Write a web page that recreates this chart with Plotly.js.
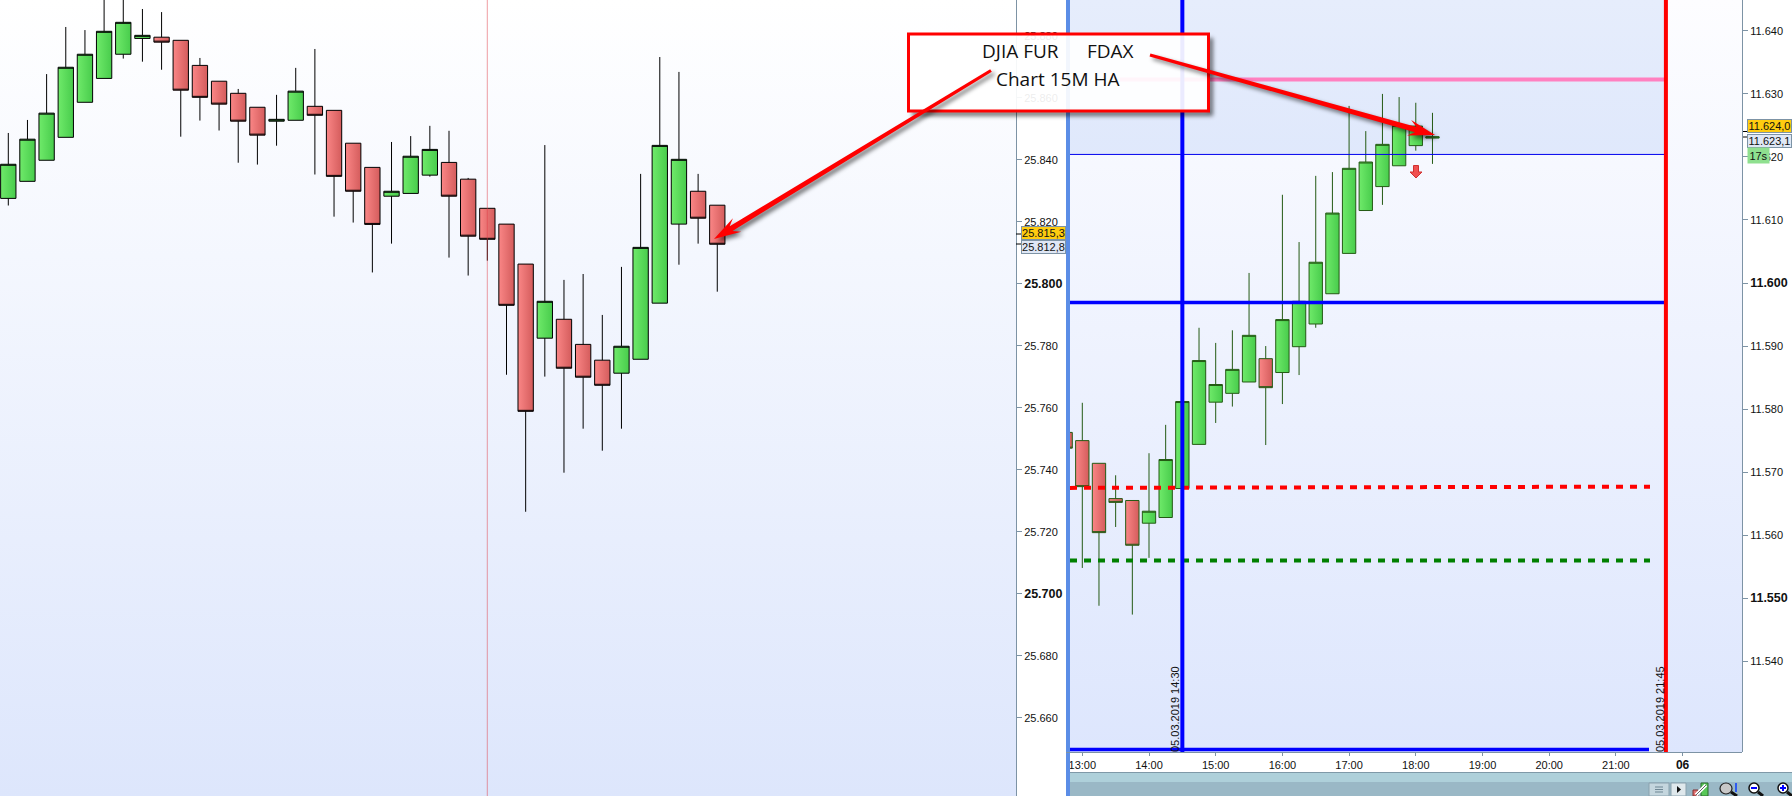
<!DOCTYPE html>
<html>
<head>
<meta charset="utf-8">
<script src="https://cdn.plot.ly/plotly-3.0.1.min.js"></script>
<style>
html,body{margin:0;padding:0;background:#fff;overflow:hidden}
#wrap{position:relative;width:1792px;height:796px;overflow:hidden;background:#fff}
#wrap>div.bg{position:absolute}
#plot{position:absolute;left:0;top:0;width:1792px;height:796px}
</style>
</head>
<body>
<div id="wrap">
  <div class="bg" style="left:0;top:0;width:1016px;height:796px;background:linear-gradient(#ffffff,#dde6fc)"></div>
  <div class="bg" style="left:1070px;top:0;width:672px;height:752px;background:linear-gradient(#fdfdff,#dde6fd)"></div>
  <div class="bg" style="left:1070px;top:772px;width:722px;height:10px;background:#aed0da;border-top:1px solid #7f99a8;box-sizing:border-box"></div>
  <div class="bg" style="left:1070px;top:782px;width:722px;height:14px;background:#9ab8c6"></div>
  <div id="plot"></div>
</div>
<script>
// ---- Left chart: DJIA future, 15M Heikin Ashi ----
const leftOpen  = [25827.6,25833.1,25839.9,25847.3,25858.6,25866.3,25874.1,25879.2,25879.6,25878.6,25870.5,25865.4,25861.5,25857.0,25852.5,25852.8,25857.3,25856.0,25845.4,25837.6,25828.3,25829.2,25835.1,25839.2,25833.8,25824.4,25819.3,25806.4,25782.5,25788.6,25780.5,25775.4,25771.2,25775.7,25793.8,25819.3,25829.9,25825.4];
const leftHigh  = [25848.7,25852.9,25867.7,25882.9,25881.9,25893.8,25894.8,25888.7,25887.7,25878.6,25872.9,25865.4,25862.9,25857.0,25861.0,25869.7,25875.8,25856.0,25845.4,25837.6,25845.8,25847.7,25851.0,25849.4,25834.2,25824.4,25819.3,25806.4,25844.8,25801.3,25803.2,25790.0,25805.5,25835.5,25873.2,25868.4,25835.5,25825.4];
const leftLow   = [25825.3,25833.1,25839.9,25847.3,25858.6,25866.3,25872.7,25871.7,25869.1,25847.5,25852.7,25849.5,25839.1,25838.5,25844.6,25852.8,25835.3,25821.7,25819.8,25803.7,25813.0,25829.2,25834.6,25808.5,25802.7,25807.5,25770.7,25726.5,25770.1,25739.1,25753.3,25746.2,25753.3,25775.7,25793.8,25806.2,25813.0,25797.5];
const leftClose = [25838.6,25846.7,25855.1,25869.9,25874.1,25881.5,25884.4,25880.2,25878.0,25862.5,25860.2,25858.0,25852.5,25848.0,25853.1,25862.2,25854.4,25834.7,25829.9,25819.2,25829.9,25841.2,25843.4,25828.3,25815.4,25814.4,25793.1,25758.9,25794.4,25772.8,25769.9,25767.3,25779.9,25811.8,25844.7,25840.2,25821.2,25812.8];
const leftIndex = leftOpen.map((_, i) => i);
const leftTickVals = [25880,25860,25840,25820,25800,25780,25760,25740,25720,25700,25680,25660];
const leftTickText = ['25.880','25.860','25.840','25.820','<b style="font-size:12.5px">25.800</b>','25.780','25.760','25.740','25.720','<b style="font-size:12.5px">25.700</b>','25.680','25.660'];

// ---- Right chart: FDAX, 15M Heikin Ashi ----
const rightTime = ['12:45','13:00','13:15','13:30','13:45','14:00','14:15','14:30','14:45','15:00','15:15','15:30','15:45','16:00','16:15','16:30','16:45','17:00','17:15','17:30','17:45','18:00','18:15'].map(t => '2019-03-05 ' + t);
const rightOpen  = [11576.3,11575.0,11571.4,11565.8,11565.5,11561.9,11562.8,11567.4,11574.4,11581.1,11582.5,11584.3,11588.0,11585.8,11589.9,11593.5,11598.3,11604.7,11611.5,11615.3,11618.6,11621.8,11623.0];
const rightHigh  = [11576.3,11581.0,11571.4,11569.5,11565.5,11573.0,11577.5,11581.2,11592.9,11590.5,11592.5,11601.6,11590.0,11614.0,11606.5,11617.0,11617.6,11628.1,11624.1,11630.0,11629.5,11628.6,11627.0];
const rightLow   = [11573.8,11554.8,11548.8,11561.3,11547.4,11556.4,11562.8,11567.4,11574.4,11577.8,11580.4,11584.3,11574.3,11580.8,11585.4,11592.9,11598.3,11604.7,11611.5,11612.4,11618.6,11621.0,11618.9];
const rightClose = [11573.8,11567.7,11560.4,11565.2,11558.4,11563.8,11572.0,11581.2,11587.7,11583.9,11586.3,11591.7,11583.4,11594.2,11597.1,11603.3,11611.1,11618.2,11619.2,11622.0,11625.0,11624.9,11623.2];
const rightTickVals = [11640,11630,11620,11610,11600,11590,11580,11570,11560,11550,11540];
const rightTickText = ['11.640','11.630','11.620','11.610','<b style="font-size:12.5px">11.600</b>','11.590','11.580','11.570','11.560','<b style="font-size:12.5px">11.550</b>','11.540'];
const timeTickVals = ['13:00','14:00','15:00','16:00','17:00','18:00','19:00','20:00','21:00','22:00'].map(t => '2019-03-05 ' + t);
const timeTickText = ['13:00','14:00','15:00','16:00','17:00','18:00','19:00','20:00','21:00','<b style="font-size:12px">06</b>'];

// Drawn levels on the right chart
const levelPink = 11632.3, levelThinBlue = 11620.4, levelThickBlue = 11596.9, levelBottomBlue = 11526.0;
const levelRedStart = 11567.5, levelRedEnd = 11567.7, levelGreen = 11556.0;
const timeBlue = '2019-03-05 14:30', timeRed = '2019-03-05 21:45';

// Pixel helpers for annotation furniture
const W = 1792, H = 796;
const px = x => x / W, py = y => 1 - y / H;
const poly = pts => 'M' + pts.map(p => px(p[0]) + ',' + py(p[1])).join('L') + 'Z';
const AXIS = '#7d93a5', SHADOW = 'rgba(0,0,0,0.55)';

function arrowPts(x0, y0, x1, y1) {
  const L = Math.hypot(x1 - x0, y1 - y0), ux = (x1 - x0) / L, uy = (y1 - y0) / L, nx = -uy, ny = ux;
  const at = (a, n) => [x1 + ux * a + nx * n, y1 + uy * a + ny * n];
  return [[x0 + nx * 1.6, y0 + ny * 1.6], at(-20, 2.7), at(-27, 8), at(0, 0), at(-27, -8), at(-20, -2.7), [x0 - nx * 1.6, y0 - ny * 1.6]];
}
const shifted = (pts, d) => pts.map(p => [p[0] + d, p[1] + d]);
const arrowA = arrowPts(991, 70.5, 714, 239);
const arrowB = arrowPts(1150, 55, 1435, 135);

const pRect = (x0, y0, x1, y1, fill, layer, line) => ({type:'rect', xref:'paper', yref:'paper', x0:px(x0), x1:px(x1), y0:py(y0), y1:py(y1), fillcolor:fill, layer:layer||'above', line:line||{width:0}});
const pCirc = (x0, y0, x1, y1, fill, lc, lw) => ({type:'circle', xref:'paper', yref:'paper', x0:px(x0), x1:px(x1), y0:py(y0), y1:py(y1), fillcolor:fill, layer:'above', line:{color:lc, width:lw}});
const pLine = (x0, y0, x1, y1, c, w) => ({type:'line', xref:'paper', yref:'paper', x0:px(x0), x1:px(x1), y0:py(y0), y1:py(y1), layer:'above', line:{color:c, width:w}});
const hLevel = (x0, x1, v0, v1, c, w, dash) => ({type:'line', xref:'paper', yref:'y2', x0:px(x0), x1:px(x1), y0:v0, y1:v1, layer:'above', line:{color:c, width:w, dash:dash||'solid'}});
const vLevel = (t, c, w) => ({type:'line', xref:'x2', yref:'paper', x0:t, x1:t, y0:py(752), y1:1, layer:'above', line:{color:c, width:w}});

const shapes = [
  // darker session zone above the thin blue line
  {type:'rect', xref:'paper', yref:'y2', x0:px(1070), x1:px(1666), y0:levelThinBlue, y1:11645, fillcolor:'rgba(30,100,230,0.10)', layer:'below', line:{width:0}},
  // left chart thin session separator
  pLine(487.3, 0, 487.3, 796, 'rgba(225,60,70,0.5)', 1),
  // frame furniture
  pRect(1066, 0, 1070, 796, '#5b8de6'),
  pLine(1066, 752.5, 1742, 752.5, AXIS, 1),
  // levels
  hLevel(1120, 1666, levelPink, levelPink, '#ff80c0', 4),
  hLevel(1070, 1666, levelThinBlue, levelThinBlue, '#0000ee', 1),
  hLevel(1070, 1666, levelThickBlue, levelThickBlue, '#0000ff', 3.5),
  hLevel(1070, 1650, levelRedStart, levelRedEnd, '#ff0000', 4, '7px,7px'),
  hLevel(1070, 1650, levelGreen, levelGreen, '#008000', 4, '7px,7px'),
  hLevel(1070, 1649, levelBottomBlue, levelBottomBlue, '#0000ff', 3.5),
  vLevel(timeBlue, '#0000ff', 4),
  vLevel(timeRed, '#ff0000', 4),
  // price ticks
  pLine(1016, 234, 1021, 234, '#000', 1), pLine(1016, 244, 1021, 244, '#000', 1),
  pLine(1743, 131.5, 1748, 131.5, '#000', 1), pLine(1743, 137, 1748, 137, '#000', 1),
  // small down arrow signal
  {type:'path', xref:'paper', yref:'paper', layer:'above', fillcolor:'#f05050', line:{color:'#d03030', width:1},
   path:poly([[1413.5,165.5],[1418.5,165.5],[1418.5,172],[1422,172],[1416,178],[1410,172],[1413.5,172]])},
  // call-out box: shadow along right and bottom edges, then the box
  {type:'path', xref:'paper', yref:'paper', layer:'above', fillcolor:SHADOW, line:{width:0},
   path:poly([[1208,38],[1213,38],[1213,116],[912,116],[912,111],[1208,111]])},
  pRect(908.5, 34, 1208.5, 111, 'rgba(255,255,255,0.92)', 'above', {color:'#ff0000', width:3}),
  // call-out arrows with shadow
  {type:'path', xref:'paper', yref:'paper', layer:'above', fillcolor:SHADOW, line:{width:0}, path:poly(shifted(arrowA, 3))},
  {type:'path', xref:'paper', yref:'paper', layer:'above', fillcolor:SHADOW, line:{width:0}, path:poly(shifted(arrowB, 3))},
  {type:'path', xref:'paper', yref:'paper', layer:'above', fillcolor:'#ff0000', line:{width:0}, path:poly(arrowA)},
  {type:'path', xref:'paper', yref:'paper', layer:'above', fillcolor:'#ff0000', line:{width:0}, path:poly(arrowB)},
  // toolbar buttons and icons
  pRect(1649, 783, 1669, 796, '#c4d6de', 'above', {color:'#8aa2ae', width:1}),
  pLine(1655, 787, 1663, 787, '#6f8794', 1), pLine(1655, 789.5, 1663, 789.5, '#6f8794', 1), pLine(1655, 792, 1663, 792, '#6f8794', 1),
  pRect(1671, 783, 1686, 796, '#dfe8ec', 'above', {color:'#8aa2ae', width:1}),
  {type:'path', xref:'paper', yref:'paper', layer:'above', fillcolor:'#111', line:{width:0}, path:poly([[1677,786],[1681,789.5],[1677,793]])},
  pRect(1701, 783, 1708, 796, '#58c858', 'above', {color:'#2d6a2d', width:1}),
  pRect(1693, 790, 1698, 796, '#e07070', 'above', {color:'#803030', width:1}),
  pLine(1696, 795, 1706, 785, '#fff', 3.5), pLine(1696, 795, 1706, 785, '#222', 0.7),
  pLine(1731, 792, 1737, 796, '#111', 3),
  pCirc(1720, 783, 1732, 794, '#c8c8c8', '#222', 1.2),
  pLine(1736, 783, 1736, 792, '#0a3cff', 1.5),
  pLine(1758, 792, 1763, 796, '#111', 3),
  pCirc(1749, 783, 1759, 793, '#fff', '#111', 1.5),
  pLine(1751, 788, 1757, 788, '#0000ff', 2),
  pLine(1787, 792, 1792, 796, '#111', 3),
  pCirc(1778, 783, 1788, 793, '#fff', '#111', 1.5),
  pLine(1780, 788, 1786, 788, '#0000ff', 2), pLine(1783, 785, 1783, 791, '#0000ff', 2)
];

const labelFont = {family:'"Liberation Sans", Arial, sans-serif', size:11, color:'#111'};
const boxFont = {family:'"Open Sans", "Noto Sans", sans-serif', size:19, color:'#111'};
const note = (x, y, text, extra) => Object.assign({xref:'paper', yref:'paper', x:px(x), y:py(y), text, showarrow:false, xanchor:'center', yanchor:'middle', font:labelFont}, extra||{});
const priceBox = (x0, x1, y0, y1, text, bg) => note((x0 + x1) / 2, (y0 + y1) / 2, text, {width:x1 - x0 - 2, height:y1 - y0 - 2, bgcolor:bg, bordercolor:AXIS, borderwidth:1, borderpad:0, align:'center'});

const annotations = [
  note(1020, 51, 'DJIA FUR', {font:boxFont}),
  note(1110, 51, 'FDAX', {font:boxFont}),
  note(1057, 79, 'Chart 15M HA', {font:boxFont}),
  note(1175, 709, '05.03.2019 14:30', {textangle:-90}),
  note(1660, 709, '05.03.2019 21:45', {textangle:-90}),
  priceBox(1021, 1066, 226, 240, '25.815,3', '#ffcc10'),
  priceBox(1021, 1066, 240, 254, '25.812,8', '#dfe7f5'),
  priceBox(1747, 1792, 119, 133, '11.624,0', '#ffcc10'),
  priceBox(1747, 1792, 134, 148, '11.623,1', '#dfe7f5'),
  note(1758, 155.5, '17s', {width:21, height:15, bgcolor:'#8fe08f', borderpad:0})
];

const candleStyle = (lineColor) => ({
  whiskerwidth: 0,
  increasing: {line:{color:lineColor, width:1}, fillcolor:'#58dc58'},
  decreasing: {line:{color:lineColor, width:1}, fillcolor:'#e87070'},
  hoverinfo: 'skip', showlegend: false
});

const traces = [
  Object.assign({type:'candlestick', x:leftIndex, open:leftOpen, high:leftHigh, low:leftLow, close:leftClose, xaxis:'x', yaxis:'y'}, candleStyle('#000000')),
  Object.assign({type:'candlestick', x:rightTime, open:rightOpen, high:rightHigh, low:rightLow, close:rightClose, xaxis:'x2', yaxis:'y2'}, candleStyle('#245a14'))
];

const yAxisBase = {side:'right', showgrid:false, zeroline:false, showline:true, linecolor:AXIS, linewidth:1, ticks:'outside', ticklen:5, tickcolor:AXIS, tickfont:labelFont, tickmode:'array', fixedrange:true, ticklabelstandoff:0};

const layout = {
  width:W, height:H, margin:{l:0, r:0, t:0, b:0, pad:0}, autosize:false,
  paper_bgcolor:'rgba(0,0,0,0)', plot_bgcolor:'rgba(0,0,0,0)', showlegend:false, boxgap:0.2, boxgroupgap:0, dragmode:false,
  xaxis:{domain:[0, 1016 / W], range:[-0.433, 52.59], visible:false, rangeslider:{visible:false}, fixedrange:true, anchor:'y'},
  yaxis:Object.assign({domain:[0, 1], range:[25634.8, 25891.6], anchor:'x', tickvals:leftTickVals, ticktext:leftTickText}, yAxisBase),
  xaxis2:{domain:[1070 / W, 1742 / W], range:['2019-03-05 12:48:56', '2019-03-05 22:53:27'], type:'date', anchor:'y2', rangeslider:{visible:false}, fixedrange:true,
          showgrid:false, zeroline:false, showline:false, ticks:'outside', ticklen:3, tickcolor:AXIS, tickfont:{family:labelFont.family, size:11, color:'#111'}, tickmode:'array', tickvals:timeTickVals, ticktext:timeTickText, tickangle:0},
  yaxis2:Object.assign({domain:[44 / H, 1], range:[11525.6, 11644.9], anchor:'x2', tickvals:rightTickVals, ticktext:rightTickText}, yAxisBase),
  shapes, annotations
};

Plotly.newPlot('plot', traces, layout, {displayModeBar:false, staticPlot:true}).then(gd => {
  const svg = gd.querySelector('svg.main-svg');
  const NS = 'http://www.w3.org/2000/svg';
  const defs = document.createElementNS(NS, 'defs');
  const grad = (id, a, b) => {
    const g = document.createElementNS(NS, 'linearGradient');
    g.setAttribute('id', id); g.setAttribute('x1', '0'); g.setAttribute('x2', '1'); g.setAttribute('y1', '0'); g.setAttribute('y2', '0');
    [[0, a], [1, b]].forEach(s => { const st = document.createElementNS(NS, 'stop'); st.setAttribute('offset', s[0]); st.setAttribute('stop-color', s[1]); g.appendChild(st); });
    defs.appendChild(g);
  };
  grad('candleUp', '#6fea6a', '#48cc4c');
  grad('candleDown', '#fa8686', '#d45c5c');
  svg.insertBefore(defs, svg.firstChild);
  gd.querySelectorAll('path.box').forEach(p => {
    const d = p.__data__;
    if (d && d.dir) p.style.fill = d.dir === 'increasing' ? 'url(#candleUp)' : 'url(#candleDown)';
  });
  gd.querySelectorAll('.shapelayer path').forEach(p => {
    if ((p.style.fill || '').replace(/\s/g, '') === 'rgb(0,0,0)' && parseFloat(p.style.fillOpacity) === 0.55) p.style.filter = 'blur(2px)';
  });
});
</script>
</body>
</html>
